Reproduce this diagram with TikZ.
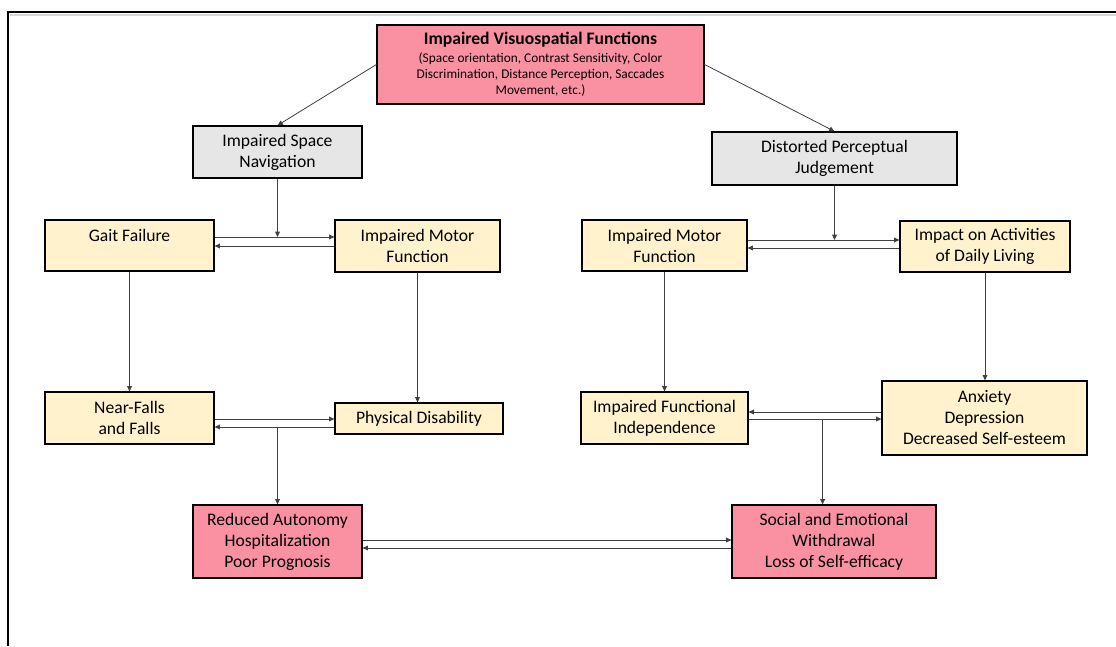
\documentclass[tikz,border=0pt]{standalone}
\usepackage{fontspec}
\setmainfont{Carlito}
\usetikzlibrary{calc,positioning,arrows.meta}

\definecolor{pinkfill}{RGB}{250,145,162}
\definecolor{creamfill}{RGB}{255,242,204}
\definecolor{greyfill}{RGB}{231,230,230}
\definecolor{linkgrey}{RGB}{64,64,64}

\newcommand{\titletext}{\fontsize{13.2}{12}\selectfont\bfseries}

\begin{document}
\begin{tikzpicture}[
  x=0.75pt,y=-0.75pt,
  line join=miter,
  box/.style={draw=black,line width=0.9pt,align=center,inner sep=0pt,
    font=\fontsize{13.2}{15.75}\selectfont},
  redbox/.style={box,fill=pinkfill},
  greybox/.style={box,fill=greyfill},
  yellowbox/.style={box,fill=creamfill},
  link/.style={draw=linkgrey,line width=0.6pt,
    -{Triangle[length=4pt,width=3.6pt]}}
]
  \useasboundingbox (0,0) rectangle (1116,646);

  % Frame of the page
  \draw[black!15,line width=1.5pt] (10,15) -- (1116,15);
  \draw[black,line width=1.3pt] (1116,12) -- (8,12) -- (8,646);

  % Top box
  \node[redbox,minimum width=245.25pt,minimum height=59.25pt,
        font=\fontsize{10}{12}\selectfont] (top) at (540.5,64.5)
    {\titletext Impaired Visuospatial Functions\\[1.5pt]
     (Space orientation, Contrast Sensitivity, Color\\
     Discrimination, Distance Perception, Saccades\\
     Movement, etc.)};

  % Second row
  \node[greybox,minimum width=126.75pt,minimum height=39pt] (isn) at (277.5,152)
    {Impaired Space\\Navigation};
  \node[greybox,minimum width=183.75pt,minimum height=39.75pt] (dpj) at (834.5,158.5)
    {Distorted Perceptual\\Judgement};

  % Third row
  \node[yellowbox,minimum width=126.75pt,minimum height=38.25pt] (gait) at (129.5,245.5)
    {Gait Failure\\\mbox{}};
  \node[yellowbox,minimum width=123.75pt,minimum height=39pt] (imfl) at (417.5,246)
    {Impaired Motor\\Function};
  \node[yellowbox,minimum width=123.75pt,minimum height=38.25pt] (imfr) at (664.5,245.5)
    {Impaired Motor\\Function};
  \node[yellowbox,minimum width=127.5pt,minimum height=38.25pt] (adl) at (985,246.5)
    {Impact on Activities\\of Daily Living};

  % Fourth row
  \node[yellowbox,minimum width=126.75pt,minimum height=39pt] (falls) at (129.5,418)
    {Near-Falls\\and Falls};
  \node[yellowbox,minimum width=126pt,minimum height=23.25pt] (physdis) at (419,418.5)
    {Physical Disability};
  \node[yellowbox,minimum width=125.25pt,minimum height=39pt] (ifi) at (664.5,418)
    {Impaired Functional\\Independence};
  \node[yellowbox,minimum width=153.75pt,minimum height=55.5pt] (anx) at (984.5,418)
    {Anxiety\\Depression\\Decreased Self-esteem};

  % Bottom row
  \node[redbox,minimum width=126.75pt,minimum height=54.75pt] (auto) at (277.5,541.5)
    {Reduced Autonomy\\Hospitalization\\Poor Prognosis};
  \node[redbox,minimum width=153pt,minimum height=54.75pt] (social) at (834,541.5)
    {Social and Emotional\\Withdrawal\\Loss of Self-efficacy};

  % Helper points on the paired links
  \coordinate (gu) at ($(gait.east)+(0,-8.5)$);
  \coordinate (gd) at ($(gait.east)+(0,0.5)$);
  \coordinate (mu) at ($(imfr.east)+(0,-5.5)$);
  \coordinate (md) at ($(imfr.east)+(0,2.5)$);
  \coordinate (fu) at ($(falls.east)+(0,1)$);
  \coordinate (fd) at ($(falls.east)+(0,9)$);
  \coordinate (iu) at ($(ifi.east)+(0,-6)$);
  \coordinate (id) at ($(ifi.east)+(0,1)$);
  \coordinate (jr) at ($(id)+(74,0)$);
  \coordinate (au) at ($(auto.east)+(0,-1.5)$);
  \coordinate (ad) at ($(auto.east)+(0,6.5)$);

  % Links
  \draw[link] (top.west) -- (isn.north);
  \draw[link] (top.east) -- (dpj.north);

  \draw[link] (isn.south) -- (isn.south |- gu);
  \draw[link] (gu) -- (gu -| imfl.west);
  \draw[link] (gd -| imfl.west) -- (gd);

  \draw[link] (dpj.south) -- (dpj.south |- mu);
  \draw[link] (mu) -- (mu -| adl.west);
  \draw[link] (md -| adl.west) -- (md);

  \draw[link] (gait.south) -- (falls.north);
  \draw[link] (imfl.south) -- (imfl.south |- physdis.north);
  \draw[link] (imfr.south) -- (ifi.north);
  \draw[link] (adl.south) -- (adl.south |- anx.north);

  \draw[link] (fu) -- (fu -| physdis.west);
  \draw[link] (fd -| physdis.west) -- (fd);
  \draw[link] (auto.north |- fd) -- (auto.north);

  \draw[link] (iu -| anx.west) -- (iu);
  \draw[link] (id) -- (id -| anx.west);
  \draw[link] (jr) -- (jr |- social.north);

  \draw[link] (au) -- (au -| social.west);
  \draw[link] (ad -| social.west) -- (ad);
\end{tikzpicture}
\end{document}
